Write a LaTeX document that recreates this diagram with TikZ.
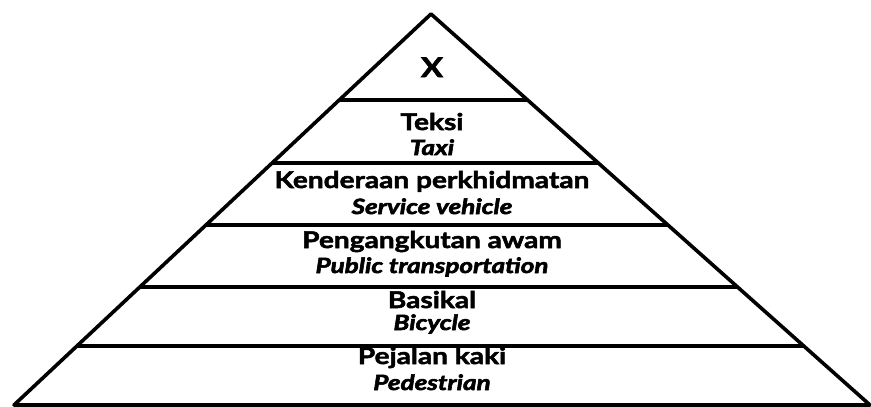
\documentclass[tikz,border=0pt]{standalone}
\usepackage{fontspec}
\setmainfont{Lato}[BoldFeatures={FakeBold=2.2,FakeStretch=1.22},BoldItalicFeatures={FakeBold=2.8,FakeStretch=1.24}]
\usetikzlibrary{calc}
\begin{document}
\begin{tikzpicture}[x=1pt,y=-1pt,
  edge/.style={line width=3.6pt,line join=round,line cap=round},
  divider/.style={line width=3.4pt},
  mainlbl/.style={anchor=base,inner sep=0pt,font=\fontsize{23}{26}\selectfont\bfseries},
  sublbl/.style={anchor=base,inner sep=0pt,font=\fontsize{21}{24}\selectfont\bfseries\itshape}]
\useasboundingbox (0,0) rectangle (871,407);
\coordinate (apex) at (431,14);
\coordinate (bl) at (14,405);
\coordinate (br) at (870,405);
% dividers
\foreach \t/\n in {0.220/a,0.381/b,0.5396/c,0.698/d,0.849/e}{
  \coordinate (L\n) at ($(apex)!\t!(bl)$);
  \coordinate (R\n) at ($(apex)!\t!(br)$);
  \draw[divider] (L\n) -- (R\n);
}
\draw[edge] (bl) -- (apex) -- (br) -- cycle;
\node[mainlbl,font=\fontsize{27}{28}\selectfont\bfseries] (x) at (432,77) {X};
\node[mainlbl] (t1) at (432,130) {Teksi};
\node[sublbl] (t2) at (432,155) {Taxi};
\node[mainlbl] (k1) at (432,188) {Kenderaan perkhidmatan};
\node[sublbl] (k2) at (432,214) {Service vehicle};
\node[mainlbl] (p1) at (432,248) {Pengangkutan awam};
\node[sublbl] (p2) at (432,273) {Public transportation};
\node[mainlbl] (b1) at (432,308) {Basikal};
\node[sublbl] (b2) at (432,330) {Bicycle};
\node[mainlbl] (j1) at (432,364) {Pejalan kaki};
\node[sublbl] (j2) at (432,390) {Pedestrian};
\end{tikzpicture}
\end{document}
